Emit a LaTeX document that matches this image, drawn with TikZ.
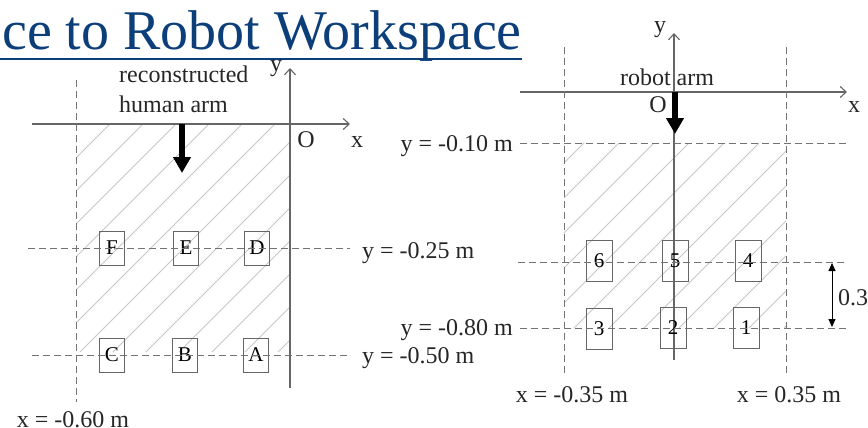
\documentclass[tikz,border=0pt]{standalone}
\usepackage{fontspec}
\setmainfont{Liberation Serif}
\usepackage{tikz}
\usetikzlibrary{arrows.meta,positioning}
\definecolor{titleblue}{RGB}{12,62,122}

\begin{document}
\begin{tikzpicture}[x=1pt,y=-1pt,
    lbl/.style={font=\fontsize{24}{26}\selectfont,text=black!85,inner sep=0pt},
    axis/.style={draw=black!60,line width=1.1pt,-{Straight Barb[length=6pt,width=11pt]}},
    guide/.style={draw=black!55,line width=0.9pt,dash pattern=on 7pt off 4pt},
    hatch/.style={draw=black!22,line width=0.8pt},
    cell/.style={draw=black!60,line width=0.9pt,inner sep=0pt,font=\fontsize{21}{22}\selectfont},
    fatarrow/.style={line width=6pt,-{Triangle[length=16pt,width=17pt]}},
    gap/.style={line width=0.9pt,{Triangle[length=8pt,width=7pt]}-{Triangle[length=8pt,width=7pt]}}]
      \useasboundingbox (0,0) rectangle (868,428);
      % title
      \node[anchor=base east,inner sep=0pt,text=titleblue,font=\fontsize{56}{60}\selectfont]
        (title) at (522,50) {ce to Robot Workspace};
      \draw[titleblue,line width=2pt] (0,59) -- (522,59);

      % left: human side
      \begin{scope}
        \clip (76,124) rectangle (290,352);
        \foreach \i in {-260,-227,...,240}
          \draw[hatch] (76+\i,352) -- ++(300,-300);
      \end{scope}
      \coordinate (hxl) at (32,124);  \coordinate (hxr) at (350,124);
      \coordinate (hyb) at (290,388); \coordinate (hyt) at (290,68);
      \draw[axis] (hxl) -- (hxr);
      \draw[axis] (hyb) -- (hyt);
      \coordinate (hvt) at (76,80);   \coordinate (hvb) at (76,402);
      \coordinate (hul) at (28,248);  \coordinate (hur) at (350,248);
      \coordinate (hll) at (32,355);  \coordinate (hlr) at (350,355);
      \draw[guide] (hvt) -- (hvb);
      \node[cell,minimum width=25pt,minimum height=34pt] (F) at (112,248) {F};
      \node[cell,minimum width=25pt,minimum height=34pt] (E) at (186,248) {E};
      \node[cell,minimum width=25pt,minimum height=34pt] (D) at (257,248) {D};
      \node[cell,minimum width=25pt,minimum height=34pt] (C) at (112,355) {C};
      \node[cell,minimum width=25pt,minimum height=34pt] (B) at (185,355) {B};
      \node[cell,minimum width=25pt,minimum height=34pt] (A) at (256,355) {A};
      \draw[guide] (hul) -- (hur);
      \draw[guide] (hll) -- (hlr);
      \coordinate (harm0) at (182,124); \coordinate (harm1) at (182,173);
      \draw[fatarrow] (harm0) -- (harm1);
      \node[lbl,anchor=base west] (human1) at (119,83) {reconstructed};
      \node[lbl,anchor=base west] (human2) at (119,113) {human arm};
      \node[lbl,anchor=base] (hy) at (276,71) {y};
      \node[lbl,anchor=base] (hO) at (306,147) {O};
      \node[lbl,anchor=base] (hx) at (357,147) {x};
      \node[lbl,anchor=base west] (hlab1) at (362,258) {y = -0.25 m};
      \node[lbl,anchor=base west] (hlab2) at (362,363) {y = -0.50 m};
      \node[lbl,anchor=base] (hlab3) at (73,427) {x = -0.60 m};

      % right: robot side
      \begin{scope}
        \clip (564,143) rectangle (786,328);
        \foreach \i in {-200,-165,...,260}
          \draw[hatch] (564+\i,328) -- ++(260,-260);
      \end{scope}
      \coordinate (rxl) at (520,92);  \coordinate (rxr) at (847,92);
      \coordinate (ryb) at (674,360); \coordinate (ryt) at (674,33);
      \draw[axis] (rxl) -- (rxr);
      \draw[axis] (ryb) -- (ryt);
      \coordinate (rv1t) at (564,47); \coordinate (rv1b) at (564,375);
      \coordinate (rv2t) at (786,47); \coordinate (rv2b) at (786,373);
      \draw[guide] (rv1t) -- (rv1b);
      \draw[guide] (rv2t) -- (rv2b);
      \node[cell,minimum width=26pt,minimum height=41pt] (c6) at (599,261) {6};
      \node[cell,minimum width=26pt,minimum height=41pt] (c5) at (675,261) {5};
      \node[cell,minimum width=26pt,minimum height=41pt] (c4) at (748,261) {4};
      \node[cell,minimum width=26pt,minimum height=41pt] (c3) at (599,329) {3};
      \node[cell,minimum width=26pt,minimum height=41pt] (c2) at (673,328) {2};
      \node[cell,minimum width=26pt,minimum height=41pt] (c1) at (746,328) {1};
      \coordinate (rtl) at (520,143); \coordinate (rtr) at (848,143);
      \coordinate (rml) at (518,262); \coordinate (rmr) at (846,262);
      \coordinate (rbl) at (520,328); \coordinate (rbr) at (848,328);
      \draw[guide] (rtl) -- (rtr);
      \draw[guide] (rml) -- (rmr);
      \draw[guide] (rbl) -- (rbr);
      \coordinate (rarm0) at (675,92); \coordinate (rarm1) at (675,134);
      \draw[fatarrow] (rarm0) -- (rarm1);
      \coordinate (gtop) at (832,263); \coordinate (gbot) at (832,327);
      \draw[gap] (gtop) -- (gbot);
      \node[lbl,anchor=base] (robot) at (667,85) {robot arm};
      \node[lbl,anchor=base] (ry) at (660,33) {y};
      \node[lbl,anchor=base] (rO) at (658,113) {O};
      \node[lbl,anchor=base] (rx) at (854,113) {x};
      \node[lbl,anchor=base east] (rlab1) at (513,151) {y = -0.10 m};
      \node[lbl,anchor=base east] (rlab2) at (513,335) {y = -0.80 m};
      \node[lbl,anchor=base] (rlab3) at (572,402) {x = -0.35 m};
      \node[lbl,anchor=base] (rlab4) at (789,402) {x = 0.35 m};
      \node[lbl,anchor=base west] (rgap) at (838,305) {0.3};
    \end{tikzpicture}
\end{document}
